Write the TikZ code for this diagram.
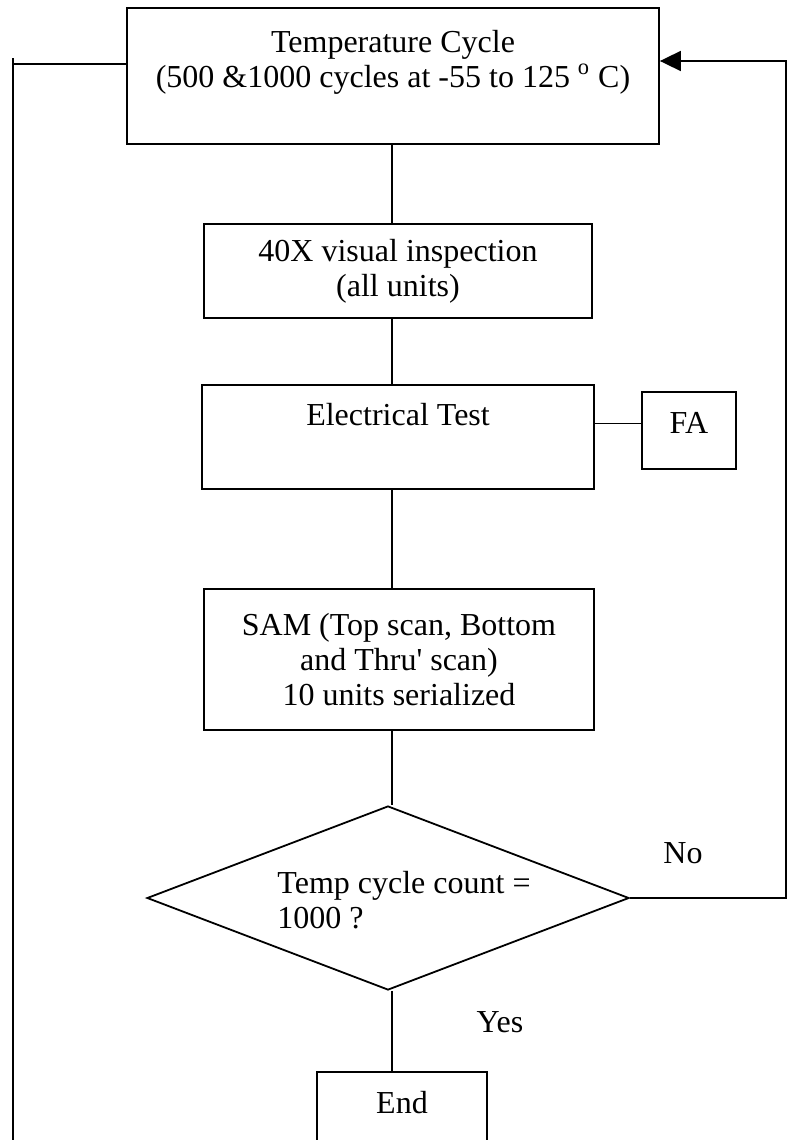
\documentclass[tikz,border=0pt]{standalone}
\usepackage{fontspec}
\setmainfont{Liberation Serif}
\usetikzlibrary{shapes.geometric,arrows.meta}

\begin{document}
\begin{tikzpicture}[x=0.5pt, y=-0.5pt]
\useasboundingbox (0,0) rectangle (792,1140);
\clip (0,0) rectangle (792,1140);

\coordinate (P1) at (393, 76);
\coordinate (P2) at (398, 271);
\coordinate (P3) at (398, 437);
\coordinate (P4) at (399, 659.5);
\coordinate (P5) at (689, 430.5);
\coordinate (P6) at (388, 898);
\coordinate (P7) at (402, 1120);
\coordinate (Spine) at (392, 0);
\coordinate (LoopL_1) at (13, 58);
\coordinate (LoopL_2) at (13, 1140);
\coordinate (LoopR_1) at (786, 61);


\tikzset{BoxStyle/.style = {
 shape = rectangle,
 draw = black,
 line width = 0.9pt,
 align = center,
 inner sep = 0pt,
 font = \fontsize{16pt}{17.5pt}\selectfont} }

\tikzset{DecisionStyle/.style = {
 shape = diamond,
 draw = black,
 line width = 0.9pt,
 inner sep = 0pt,
 minimum width = 241pt,
 minimum height = 92pt} }

\tikzset{TextStyle/.style = {
 inner sep = 0pt,
 font = \fontsize{16pt}{17.5pt}\selectfont} }

\node[BoxStyle, minimum width=266pt, minimum height=68pt] (B1) at (P1)
 {Temperature Cycle\\(500 \&1000 cycles at -55 to 125 \textsuperscript{o} C)\\ \mbox{}};
\node[BoxStyle, minimum width=194pt, minimum height=47pt] (B2) at (P2)
 {40X visual inspection\\(all units)};
\node[BoxStyle, minimum width=196pt, minimum height=52pt] (B3) at (P3)
 {Electrical Test\\[5.5pt] \mbox{}};
\node[BoxStyle, minimum width=195pt, minimum height=70.5pt] (B4) at (P4)
 {SAM (Top scan, Bottom\\and Thru\textquotesingle{} scan)\\10 units serialized};
\node[BoxStyle, minimum width=47pt, minimum height=38.5pt] (B5) at (P5)
 {FA\\[-9.5pt] \mbox{}};
\node[DecisionStyle] (D1) at (P6) {};
\node[TextStyle, align=left] (D1_txt) at (404, 900) {Temp cycle count =\\1000 ?};
\node[BoxStyle, minimum width=85pt, minimum height=48pt] (B6) at (P7)
 {End\\ \mbox{}};

\node[TextStyle] (L_no) at (683, 853) {No};
\node[TextStyle] (L_yes) at (500, 1022) {Yes};


\tikzset{EdgeStyle/.style = {line width=0.9pt} }

\draw[EdgeStyle] (B1.south -| Spine) -- (B2.north -| Spine);
\draw[EdgeStyle] (B2.south -| Spine) -- (B3.north -| Spine);
\draw[EdgeStyle] (B3.south -| Spine) -- (B4.north -| Spine);
\draw[EdgeStyle] (B4.south -| Spine) -- (D1.north -| Spine);
\draw[EdgeStyle] (D1.south -| Spine) -- (B6.north -| Spine);
\draw[EdgeStyle] ([yshift=3.5pt]B5.west) -- ([yshift=3.5pt]B5.west -| B3.east);
\draw[EdgeStyle] (LoopL_1) -- (LoopL_2);
\draw[EdgeStyle] ([yshift=6pt]B1.west) -- ([yshift=6pt]B1.west -| LoopL_1);
\draw[EdgeStyle, -{Triangle[length=10.5pt, width=10pt]}] (D1.east) -| (LoopR_1) -- ([yshift=7.5pt]B1.east);

\end{tikzpicture}
\end{document}
